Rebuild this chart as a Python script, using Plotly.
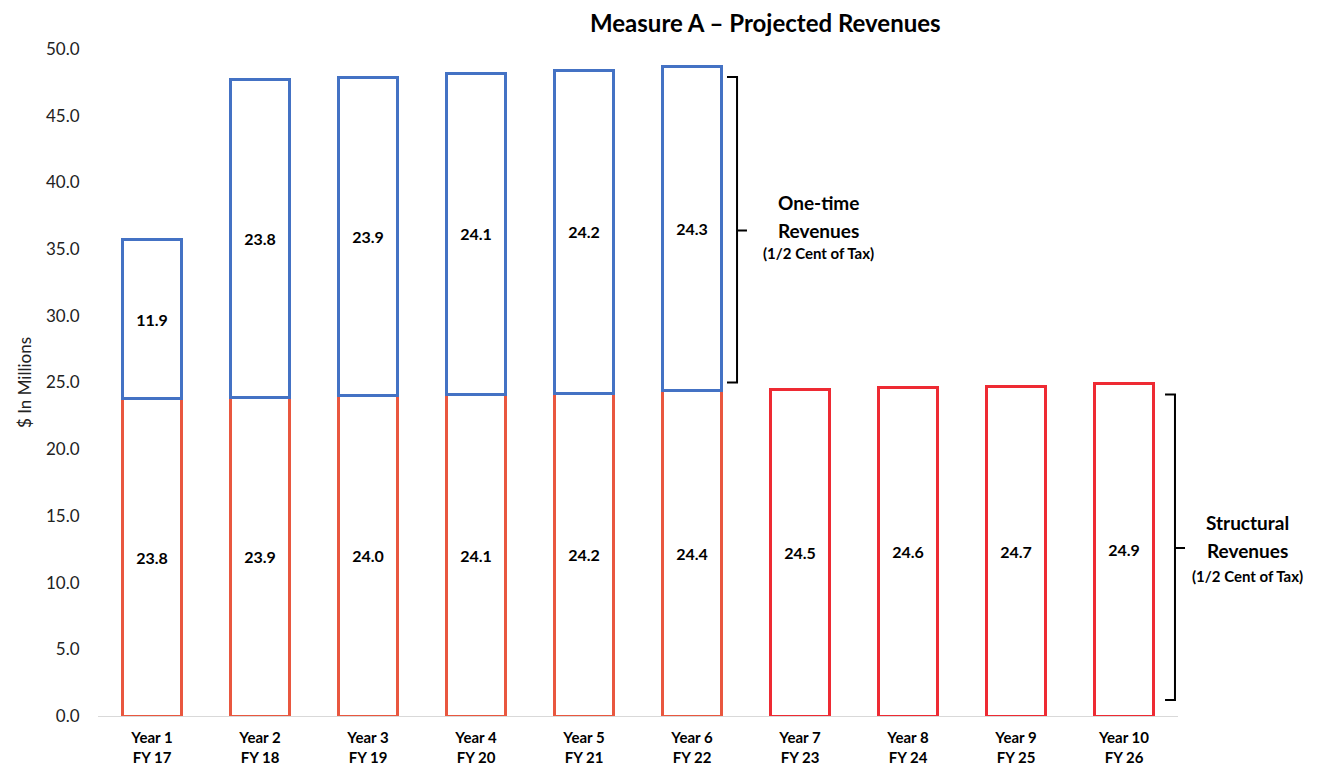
import plotly.graph_objects as go

years = ["Year 1", "Year 2", "Year 3", "Year 4", "Year 5", "Year 6", "Year 7", "Year 8", "Year 9", "Year 10"]
fiscal = ["FY 17", "FY 18", "FY 19", "FY 20", "FY 21", "FY 22", "FY 23", "FY 24", "FY 25", "FY 26"]
structural = [23.8, 23.9, 24.0, 24.1, 24.2, 24.4, 24.5, 24.6, 24.7, 24.9]
one_time = [11.9, 23.8, 23.9, 24.1, 24.2, 24.3, None, None, None, None]

cats = [f"<b>{y}</b><br><b>{f}</b>" for y, f in zip(years, fiscal)]
struct_colors = ["#E9573F"] * 6 + ["#EE2A33"] * 4
FONT = "Lato"

fig = go.Figure()
fig.add_trace(go.Bar(
    x=cats, y=structural,
    marker=dict(color="white", line=dict(color=struct_colors, width=3)),
    text=[f"<b>{v:.1f}</b>" for v in structural],
    textposition="inside", insidetextanchor="middle",
    textfont=dict(family=FONT, size=16, color="black"),
    name="Structural", showlegend=False,
))
fig.add_trace(go.Bar(
    x=cats, y=one_time,
    marker=dict(color="white", line=dict(color="#4472C4", width=3)),
    text=[f"<b>{v:.1f}</b>" if v is not None else "" for v in one_time],
    textposition="inside", insidetextanchor="middle",
    textfont=dict(family=FONT, size=16, color="black"),
    name="One-time", showlegend=False,
))

fig.update_layout(
    barmode="stack", bargap=0.45,
    width=1330, height=773,
    margin=dict(l=90, r=160, t=41, b=65),
    plot_bgcolor="white", paper_bgcolor="white",
    font=dict(family=FONT, color="black"),
    xaxis=dict(showline=True, linecolor="#d9d9d9", linewidth=1,
               tickfont=dict(family=FONT, size=15, color="black"),
               showgrid=False, ticks="outside", ticklen=8, tickcolor="white"),
    yaxis=dict(range=[0, 50], dtick=5, tickformat=".1f", showgrid=False, zeroline=False,
               ticks="outside", ticklen=14, tickcolor="white",
               tickfont=dict(family=FONT, size=17, color="#222"),
               title=dict(text="$ In Millions", font=dict(family=FONT, size=17, color="#222"), standoff=10)),
)

# chart title as an annotation just above the plot area
fig.add_annotation(x=0.6176, y=1.04, xref="paper", yref="paper",
                   text="<b>Measure A \u2013 Projected Revenues</b>", showarrow=False,
                   xanchor="center", yanchor="middle", font=dict(family=FONT, size=24, color="black"))

def bracket(x0, x1, x2, ytop, ybot, ymid):
    fig.add_shape(type="path", xref="paper", yref="y",
                  path=f"M {x0},{ytop} L {x1},{ytop} L {x1},{ybot} L {x0},{ybot} M {x1},{ymid} L {x2},{ymid}",
                  line=dict(color="black", width=2))

bracket(0.5824, 0.5917, 0.6009, 47.9, 25.0, 36.4)
bracket(0.9880, 0.9972, 1.0065, 24.1, 1.2, 12.6)

def label(x, lines, ys):
    for (t, size), yv in zip(lines, ys):
        fig.add_annotation(x=x, y=yv, xref="paper", yref="y", text=f"<b>{t}</b>", showarrow=False,
                           xanchor="center", yanchor="middle", font=dict(family=FONT, size=size, color="black"))

label(0.6667, [("One-time", 19), ("Revenues", 19), ("(1/2 Cent of Tax)", 15)], [38.5, 36.4, 34.7])
label(1.0648, [("Structural", 19), ("Revenues", 19), ("(1/2 Cent of Tax)", 15)], [14.5, 12.4, 10.5])

fig.write_html("out.html")
